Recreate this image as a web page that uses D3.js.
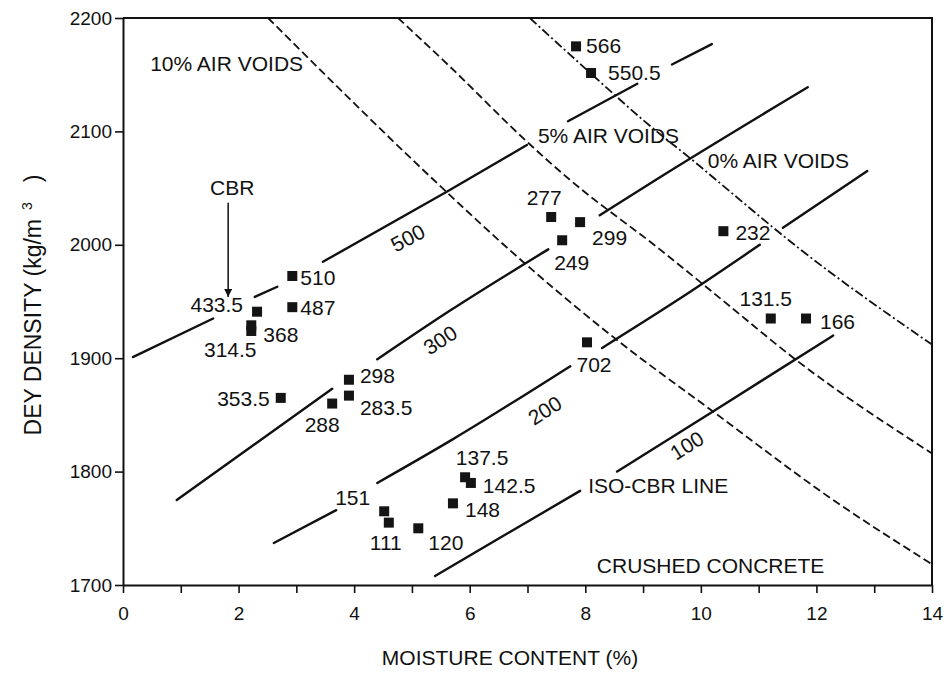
<!DOCTYPE html>
<html>
<head>
<meta charset="utf-8">
<script src="https://cdn.jsdelivr.net/npm/d3@7"></script>
<style>
  body { margin: 0; background: #fff; }
  text { font-family: "Liberation Sans", Arial, Helvetica, sans-serif; fill: #111; }
</style>
</head>
<body>
<div id="chart"></div>
<script>
// test points: CBR value, moisture content (%), dry density (kg/m3)
const cbrValues = ["566", "550.5", "277", "299", "249", "232", "131.5", "166", "702",
  "510", "487", "433.5", "368", "314.5", "353.5", "298", "283.5", "288",
  "137.5", "142.5", "148", "151", "111", "120"];
const moisture = [7.84, 8.10, 7.41, 7.91, 7.60, 10.39, 11.21, 11.82, 8.03,
  2.93, 2.93, 2.32, 2.22, 2.22, 2.73, 3.91, 3.91, 3.62,
  5.92, 6.02, 5.71, 4.52, 4.60, 5.11];
const density = [2175, 2151.5, 2024.5, 2020, 2004, 2012, 1935, 1935, 1914,
  1972.5, 1945, 1941, 1929, 1924, 1865, 1881, 1867, 1860,
  1795, 1790, 1772, 1765, 1755, 1750];

// iso-CBR lines, drawn in pieces (gaps where the labels sit)
const cbr500 = [[[0.17, 1901], [1.56, 1935]], [[2.28, 1954], [2.67, 1963]],
  [[3.46, 1985], [5.61, 2047], [6.99, 2088]], [[7.70, 2109], [8.90, 2142]],
  [[9.50, 2159], [10.19, 2177]]];
const cbr300 = [[[0.93, 1775], [3.62, 1873]], [[4.40, 1899], [5.66, 1942], [7.36, 1996]],
  [[8.25, 2026], [9.21, 2057], [11.85, 2139]]];
const cbr200 = [[[2.61, 1737], [3.69, 1766]], [[4.40, 1790], [5.69, 1828], [7.74, 1893]],
  [[8.29, 1909], [9.59, 1951], [11.02, 2000]], [[11.42, 2015], [12.88, 2065]]];
const cbr100 = [[[5.40, 1708], [7.91, 1783]], [[8.55, 1800], [10.21, 1853], [12.29, 1920]]];

// air void lines
const voids10 = [[2.51, 2200], [5.59, 2047], [6.70, 1995], [8.55, 1916], [10.21, 1853], [12.29, 1775], [13.98, 1719]];
const voids5 = [[4.76, 2200], [5.66, 2157], [7.01, 2090], [7.74, 2057], [9.29, 1996], [10.33, 1953], [11.66, 1898], [14, 1816]];
const voids0 = [[7.04, 2200], [8.25, 2144], [9.00, 2110], [9.99, 2069], [10.27, 2057], [11.72, 1996], [14, 1912]];

const isoLabels = ["500", "300", "200", "100"];
const isoLabelX = [4.93, 5.49, 7.30, 9.76];
const isoLabelY = [2006, 1916, 1854, 1823];

const xTicks = d3.range(0, 15);
const yTicks = [1700, 1800, 1900, 2000, 2100, 2200];

// label placement next to each square: [anchor, dx, dy]
const labelPos = {
  "566": ["start", 10, 7], "550.5": ["start", 17, 7], "277": ["middle", -7, -12],
  "299": ["start", 12, 23], "249": ["start", -8, 30], "232": ["start", 12, 9],
  "131.5": ["middle", -5, -13], "166": ["start", 14, 10], "702": ["middle", 7, 30],
  "510": ["start", 8, 9], "487": ["start", 8, 8], "433.5": ["end", -14, 0],
  "368": ["start", 12, 17], "314.5": ["middle", -21, 26], "353.5": ["end", -11, 8],
  "298": ["start", 11, 3], "283.5": ["start", 11, 19], "288": ["middle", -10, 28],
  "137.5": ["middle", 17, -12], "142.5": ["start", 12, 10], "148": ["start", 12, 14],
  "151": ["end", -14, -6], "111": ["middle", -3, 27], "120": ["start", 10, 22]
};

const width = 946, height = 673;
const plotLeft = 123, plotRight = 932, plotTop = 18, plotBottom = 585;

let svg = d3.select("#chart").append("svg")
    .attr("width", width)
    .attr("height", height);

let x = d3.scaleLinear().domain([0, 14]).range([plotLeft, plotRight]);
let y = d3.scaleLinear().domain([1700, 2200]).range([plotBottom, plotTop]);

let line = d3.line()
    .x(d => x(d[0]))
    .y(d => y(d[1]))
    .curve(d3.curveMonotoneX);

// frame (top and right)
svg.append("path")
    .attr("d", "M" + plotLeft + "," + plotTop + "H" + plotRight + "V" + plotBottom)
    .attr("fill", "none")
    .attr("stroke", "#111")
    .attr("stroke-width", 2);

// axes
let xAxis = d3.axisBottom(x)
    .tickValues(xTicks)
    .tickSize(8)
    .tickSizeOuter(0)
    .tickPadding(14)
    .tickFormat(d => d % 2 ? "" : d);
let yAxis = d3.axisLeft(y)
    .tickValues(yTicks)
    .tickSize(8)
    .tickSizeOuter(0)
    .tickPadding(3)
    .tickFormat(d3.format("d"));

let gx = svg.append("g")
    .attr("transform", "translate(0," + plotBottom + ")")
    .call(xAxis);
let gy = svg.append("g")
    .attr("transform", "translate(" + plotLeft + ",0)")
    .call(yAxis);

[gx, gy].forEach(g => {
  g.select(".domain").attr("stroke", "#111").attr("stroke-width", 2);
  g.selectAll(".tick line").attr("stroke", "#111").attr("stroke-width", 1.6);
  g.selectAll(".tick text")
      .style("font-family", "'Liberation Sans', Arial, sans-serif")
      .style("font-size", "19px")
      .attr("fill", "#111");
});

// air void curves
svg.append("path").attr("d", line(voids10))
    .attr("fill", "none").attr("stroke", "#111").attr("stroke-width", 1.8)
    .attr("stroke-dasharray", "8,4");
svg.append("path").attr("d", line(voids5))
    .attr("fill", "none").attr("stroke", "#111").attr("stroke-width", 1.8)
    .attr("stroke-dasharray", "8,4");
svg.append("path").attr("d", line(voids0))
    .attr("fill", "none").attr("stroke", "#111").attr("stroke-width", 1.8)
    .attr("stroke-dasharray", "9,3,2,3");

// iso-CBR lines
let isoG = svg.append("g");
[cbr500, cbr300, cbr200, cbr100].forEach(segs => {
  isoG.selectAll(null)
      .data(segs)
      .enter()
      .append("path")
      .attr("d", line)
      .attr("fill", "none")
      .attr("stroke", "#111")
      .attr("stroke-width", 2.4)
      .attr("stroke-linecap", "round");
});

// rotated iso-CBR values
let angles = [-28, -33, -32, -32];
svg.selectAll(".isoLabel")
    .data(isoLabels)
    .enter()
    .append("text")
    .attr("class", "isoLabel")
    .attr("transform", (d, i) => "translate(" + x(isoLabelX[i]) + "," + y(isoLabelY[i]) + ") rotate(" + angles[i] + ")")
    .attr("text-anchor", "middle")
    .attr("dy", "0.35em")
    .style("font-size", "21px")
    .text(d => d);

// points
let pts = cbrValues.map((c, i) => ({ c: c, m: moisture[i], d: density[i] }));
let s = 10;
svg.selectAll(".pt")
    .data(pts)
    .enter()
    .append("rect")
    .attr("class", "pt")
    .attr("x", d => x(d.m) - s / 2)
    .attr("y", d => y(d.d) - s / 2)
    .attr("width", s)
    .attr("height", s)
    .attr("fill", "#141414");

svg.selectAll(".ptLabel")
    .data(pts)
    .enter()
    .append("text")
    .attr("class", "ptLabel")
    .attr("x", d => x(d.m) + labelPos[d.c][1])
    .attr("y", d => y(d.d) + labelPos[d.c][2])
    .attr("text-anchor", d => labelPos[d.c][0])
    .style("font-size", "21px")
    .text(d => d.c);

// annotations
let notes = [
  { t: "10% AIR VOIDS", m: 0.47, d: 2153 },
  { t: "5% AIR VOIDS", m: 7.18, d: 2090 },
  { t: "0% AIR VOIDS", m: 10.12, d: 2068 },
  { t: "ISO-CBR LINE", m: 8.05, d: 1781 },
  { t: "CRUSHED CONCRETE", m: 8.20, d: 1710.5 }
];
svg.selectAll(".note")
    .data(notes)
    .enter()
    .append("text")
    .attr("class", "note")
    .attr("x", d => x(d.m))
    .attr("y", d => y(d.d))
    .style("font-size", "21px")
    .text(d => d.t);

// CBR arrow
svg.append("defs").append("marker")
    .attr("id", "arrow")
    .attr("viewBox", "0 0 10 10")
    .attr("refX", 10).attr("refY", 5)
    .attr("markerWidth", 10).attr("markerHeight", 8)
    .attr("markerUnits", "userSpaceOnUse")
    .attr("orient", "auto")
    .append("path")
    .attr("d", "M0,0L10,5L0,10Z")
    .attr("fill", "#111");
svg.append("text")
    .attr("x", x(1.89)).attr("y", y(2044))
    .attr("text-anchor", "middle")
    .style("font-size", "21px")
    .text("CBR");
svg.append("line")
    .attr("x1", x(1.82)).attr("y1", y(2037))
    .attr("x2", x(1.82)).attr("y2", y(1954))
    .attr("stroke", "#111").attr("stroke-width", 1.5)
    .attr("marker-end", "url(#arrow)");

// axis titles
svg.append("text")
    .attr("x", 510).attr("y", 665)
    .attr("text-anchor", "middle")
    .style("font-size", "21px")
    .text("MOISTURE CONTENT (%)");

let yt = svg.append("text")
    .attr("transform", "translate(41,305) rotate(-90)")
    .attr("text-anchor", "middle")
    .style("font-size", "23px");
yt.append("tspan").text("DEY DENSITY (kg/m");
yt.append("tspan").attr("dx", 9).attr("dy", -9).style("font-size", "14px").text("3");
yt.append("tspan").attr("dx", 20).attr("dy", 9).text(")");
</script>
</body>
</html>
